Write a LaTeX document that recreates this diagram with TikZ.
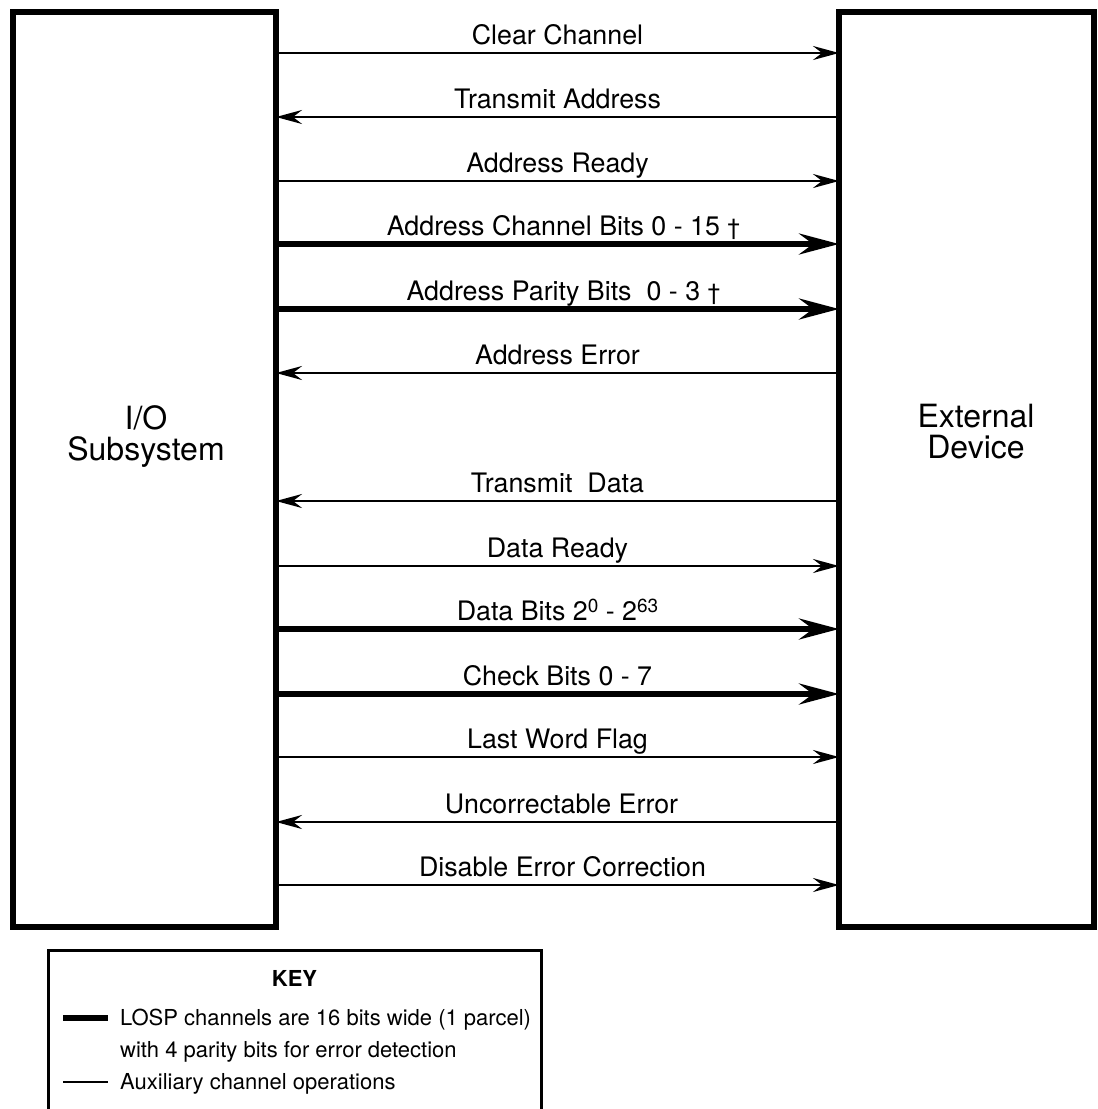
\documentclass[tikz,border=0pt]{standalone}
\usepackage{fontspec}
\setmainfont{TeX Gyre Heros}
\usetikzlibrary{arrows.meta}
\newcommand{\mysup}[1]{\raisebox{7.5pt}{\fontsize{19}{19}\selectfont #1}}
\newcommand{\mydag}{{\fontsize{23}{23}\selectfont †}}
\tikzset{
  boxstyle/.style={draw, line width=6pt, inner sep=0pt, outer sep=0pt},
  thinarrow/.style={line width=2.6pt, -{Stealth[length=26pt,width=14pt,inset=9pt]}},
  thickarrow/.style={line width=5.5pt, -{Stealth[length=40pt,width=21pt,inset=14pt]}},
  lbl/.style={font=\fontsize{26.8}{30}\selectfont, anchor=base, inner sep=0pt, yshift=9pt},
  boxlbl/.style={font=\fontsize{32}{31}\selectfont, align=center, inner sep=0pt},
  keytxt/.style={font=\fontsize{22}{26}\selectfont, anchor=base west, inner sep=0pt},
}
\begin{document}
\begin{tikzpicture}[x=1pt,y=-1pt]
\useasboundingbox (0,0) rectangle (1098,1109);
\fill[white] (0,0) rectangle (1098,1109);
% boxes
\node[boxstyle, minimum width=263pt, minimum height=915pt] (io) at (144.5,469.5) {};
\node[boxstyle, minimum width=255pt, minimum height=915pt] (ext) at (966.5,469.5) {};
\node[boxlbl] (iolbl) at (146,437) {I/O\\Subsystem};
\node[boxlbl] (extlbl) at (976,432) {External\\Device};
% connectors
\draw[thinarrow]  (io.east |- 0,53)  -- node[lbl]{Clear Channel} (ext.west |- 0,53);
\draw[thinarrow]  (ext.west |- 0,117) -- node[lbl]{Transmit Address} (io.east |- 0,117);
\draw[thinarrow]  (io.east |- 0,181) -- node[lbl]{Address Ready} (ext.west |- 0,181);
\draw[thickarrow] (io.east |- 0,244) -- node[lbl,xshift=6pt]{Address Channel Bits 0 - 15 \mydag} (ext.west |- 0,244);
\draw[thickarrow] (io.east |- 0,309) -- node[lbl,xshift=6pt]{Address Parity Bits\ \ 0 - 3 \mydag} (ext.west |- 0,309);
\draw[thinarrow]  (ext.west |- 0,373) -- node[lbl]{Address Error} (io.east |- 0,373);
\draw[thinarrow]  (ext.west |- 0,501) -- node[lbl]{Transmit\ \ Data} (io.east |- 0,501);
\draw[thinarrow]  (io.east |- 0,566) -- node[lbl]{Data Ready} (ext.west |- 0,566);
\draw[thickarrow] (io.east |- 0,629) -- node[lbl]{Data Bits 2\mysup{0} - 2\mysup{63}} (ext.west |- 0,629);
\draw[thickarrow] (io.east |- 0,694) -- node[lbl]{Check Bits 0 - 7} (ext.west |- 0,694);
\draw[thinarrow]  (io.east |- 0,757) -- node[lbl]{Last Word Flag} (ext.west |- 0,757);
\draw[thinarrow]  (ext.west |- 0,822) -- node[lbl,xshift=4pt]{Uncorrectable Error} (io.east |- 0,822);
\draw[thinarrow]  (io.east |- 0,885) -- node[lbl,xshift=5pt]{Disable Error Correction} (ext.west |- 0,885);
% key
\node[draw, line width=3pt, inner sep=0pt, outer sep=0pt, minimum width=493pt, minimum height=170pt] (key) at (294.5,1035) {};
\node[font=\fontsize{22}{26}\selectfont\bfseries, anchor=base, inner sep=0pt] (keytitle) at (294.5,986) {KEY};
\coordinate (k1a) at (63,1018);
\coordinate (k1b) at (108,1018);
\coordinate (k2a) at (63,1082);
\coordinate (k2b) at (108,1082);
\draw[line width=6.5pt] (k1a) -- (k1b);
\draw[line width=2.4pt] (k2a) -- (k2b);
\node[keytxt] (kt1) at (120,1025) {LOSP channels are 16 bits wide (1 parcel)};
\node[keytxt] (kt2) at (120,1057) {with 4 parity bits for error detection};
\node[keytxt] (kt3) at (120,1089) {Auxiliary channel operations};
\end{tikzpicture}
\end{document}
